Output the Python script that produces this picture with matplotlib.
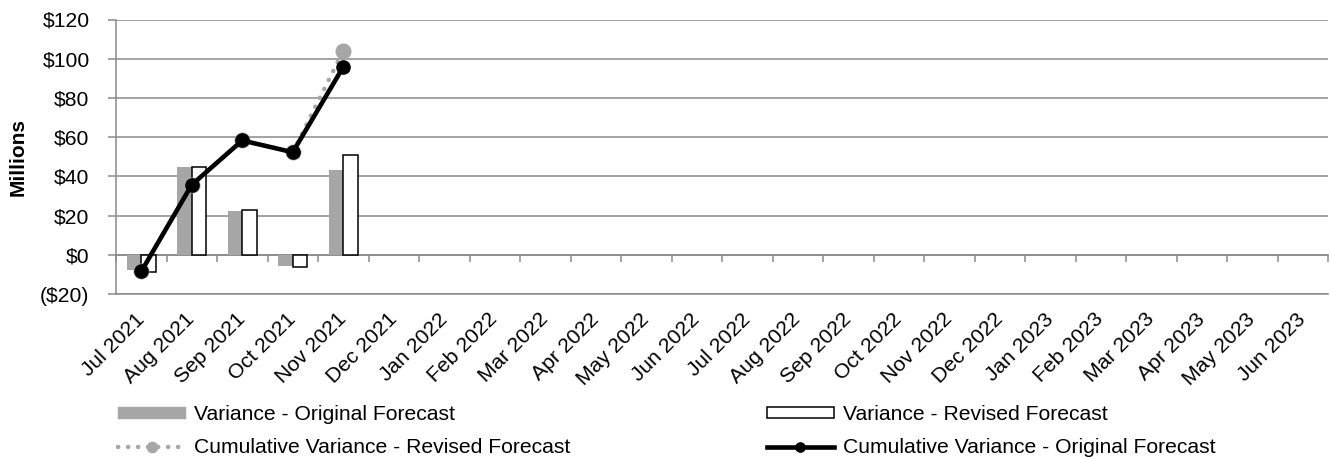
import matplotlib
matplotlib.use("Agg")
import matplotlib.pyplot as plt
import numpy as np
from matplotlib.patches import Patch
from matplotlib.lines import Line2D

plt.rcParams['font.family'] = ['Liberation Sans', 'DejaVu Sans']

# Data (Millions)
months = ['Jul 2021', 'Aug 2021', 'Sep 2021', 'Oct 2021', 'Nov 2021', 'Dec 2021',
          'Jan 2022', 'Feb 2022', 'Mar 2022', 'Apr 2022', 'May 2022', 'Jun 2022',
          'Jul 2022', 'Aug 2022', 'Sep 2022', 'Oct 2022', 'Nov 2022', 'Dec 2022',
          'Jan 2023', 'Feb 2023', 'Mar 2023', 'Apr 2023', 'May 2023', 'Jun 2023']
var_original = [-8, 45, 22.5, -5.5, 43]
var_revised = [-9, 45, 23, -6, 51]
cum_original = [-8.5, 35.7, 58.3, 52.3, 95.8]
cum_revised = [-8.5, 35.7, 58.3, 52.3, 104]
y_ticks = [-20, 0, 20, 40, 60, 80, 100, 120]

grid_col = '#8a8a8a'
bar_gray = '#a6a6a6'
dots = (0, (0.05, 2.2))
fs = 15.2

def money(v):
    return '(${})'.format(abs(v)) if v < 0 else '${}'.format(v)

fig = plt.figure(figsize=(13.3, 4.58), dpi=100)
ax = fig.add_axes([116 / 1330, 1 - 294 / 458, 1212 / 1330, 274.5 / 458])

x = np.arange(len(months))
n = len(var_original)
w = 0.29
ax.bar(x[:n] - w / 2, var_original, width=w, color=bar_gray, zorder=3)
ax.bar(x[:n] + w / 2, var_revised, width=w, color='white', edgecolor='black',
       linewidth=1.1, zorder=3)

ax.plot(x[:n], cum_revised, color=bar_gray, linestyle=dots, linewidth=3.2,
        dash_capstyle='round', marker='o', markersize=10.5, zorder=4)
ax.plot(x[:n], cum_original, color='black', linewidth=3.3, marker='o',
        markersize=9.5, zorder=5)

ax.set_xlim(-0.5, len(months) - 0.5)
ax.set_ylim(y_ticks[0], y_ticks[-1])
ax.set_yticks(y_ticks)
ax.set_yticklabels([money(v) for v in y_ticks])
ax.yaxis.grid(True, color=grid_col, linewidth=1.1, zorder=0)
ax.set_axisbelow(True)

ax.set_xticks(x)
ax.set_xticklabels(months, rotation=45, ha='right', va='center', rotation_mode='anchor')
ax.tick_params(axis='x', length=0, pad=16, labelsize=fs)
ax.tick_params(axis='y', length=6, width=1.1, color=grid_col, pad=13, labelsize=fs)

for s in ['top', 'right']:
    ax.spines[s].set_visible(False)
for s in ['left', 'bottom']:
    ax.spines[s].set_color(grid_col)
    ax.spines[s].set_linewidth(1.1)

# category axis sits on the zero line
zero_pos = (0 - y_ticks[0]) / (y_ticks[-1] - y_ticks[0])
sec = ax.secondary_xaxis(zero_pos)
sec.set_xticks(np.arange(len(months) + 1) - 0.5)
sec.tick_params(axis='x', direction='out', length=5, width=1.1, color=grid_col,
                labelbottom=False, labeltop=False)
sec.spines['bottom'].set_color(grid_col)
sec.spines['bottom'].set_linewidth(1.1)

ax.set_ylabel('Millions', fontsize=15, fontweight='bold')
ax.yaxis.set_label_coords(-0.073, 0.5)

handles = [
    Patch(facecolor=bar_gray, edgecolor=bar_gray, label='Variance - Original Forecast'),
    Line2D([], [], color=bar_gray, linestyle=dots, linewidth=3.2,
           dash_capstyle='round', marker='o', markersize=10.5,
           label='Cumulative Variance - Revised Forecast'),
    Patch(facecolor='white', edgecolor='black', linewidth=1.1,
          label='Variance - Revised Forecast'),
    Line2D([], [], color='black', linewidth=3.3, marker='o', markersize=9.5,
           label='Cumulative Variance - Original Forecast'),
]
fig.legend(handles=handles, ncol=2, loc='upper left', bbox_to_anchor=(118 / 1330, 1 - 405 / 458),
           frameon=False, fontsize=fs, handlelength=3.18, handleheight=0.38,
           handletextpad=0.43, columnspacing=9.3, labelspacing=0.66,
           borderpad=0, borderaxespad=0, markerscale=0.7)

fig.savefig('out.png', dpi=100)
